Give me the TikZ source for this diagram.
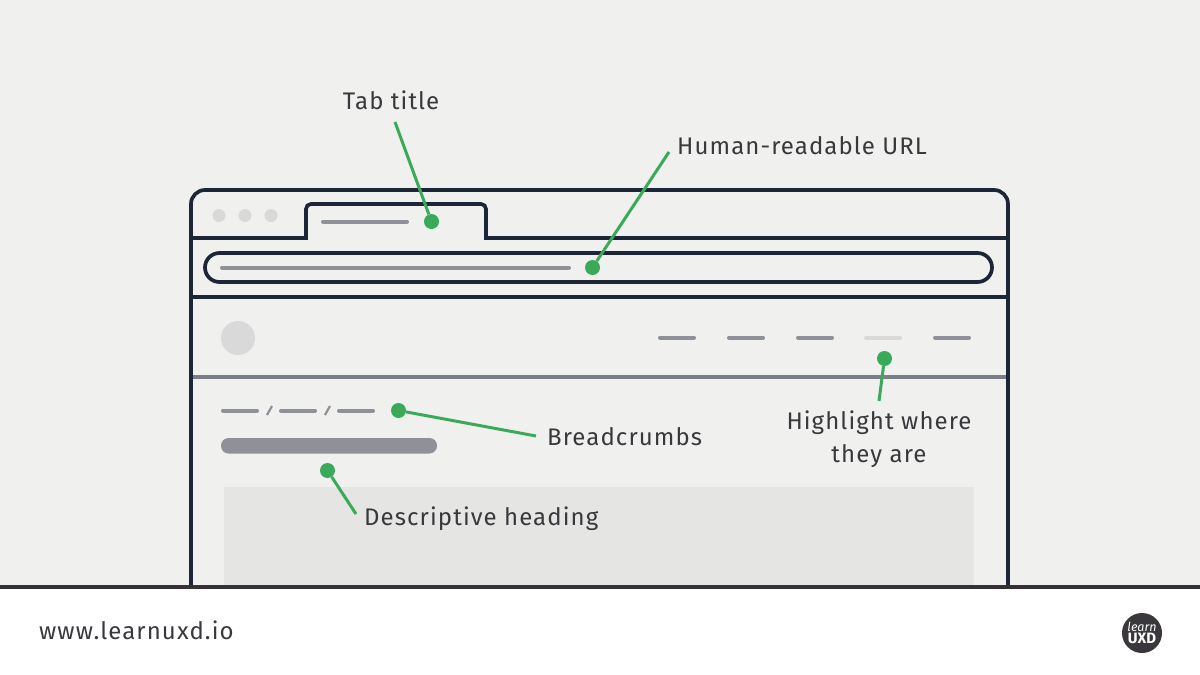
\documentclass[tikz,border=0pt]{standalone}
\usepackage{fontspec}
\setmainfont[LetterSpace=4.5]{Fira Sans}
\usepackage{tikz}
\definecolor{pagebg}{HTML}{F0F0EF}
\definecolor{frameblue}{HTML}{1D2636}
\definecolor{navgrey}{HTML}{7A7F87}
\definecolor{stubgrey}{HTML}{8E9198}
\definecolor{palegrey}{HTML}{D9D9D9}
\definecolor{panelgrey}{HTML}{E5E5E4}
\definecolor{leadgreen}{HTML}{3AAA5A}
\definecolor{inkdark}{HTML}{3A383D}
\tikzstyle{frame} = [
    line width=3.7pt,
    draw=frameblue
]
\tikzstyle{stub} = [
    line width=4pt,
    draw=stubgrey,
    line cap=round
]
\tikzstyle{dot} = [
    circle,
    inner sep=0pt,
    minimum size=15pt,
    fill=leadgreen
]
\tikzstyle{light} = [
    circle,
    inner sep=0pt,
    minimum size=13pt,
    fill=palegrey
]
\tikzstyle{label} = [
    inner sep=0pt,
    text=inkdark,
    font=\fontsize{24}{33}\selectfont
]
\tikzstyle{leader} = [line width=3pt, draw=leadgreen]

\begin{document}
\begin{tikzpicture}[x=1pt,y=-1pt]
\useasboundingbox (0,0) rectangle (1200,675);
\fill [pagebg] (0,0) rectangle (1200,587);

\fill [panelgrey] (224,487) rectangle (974,587);

% browser window
\draw [frame, rounded corners=14pt] (191,587) -- (191,190) -- (1008,190) -- (1008,587);
\draw [frame] (191,238) -- (306,238);
\draw [frame] (486,238) -- (1008,238);
\draw [frame, rounded corners=5pt] (306,239.8) -- (306,204) -- (486,204) -- (486,239.8);
\draw [frame, rounded corners=14.5pt] (205,253) rectangle (992,282);
\draw [frame] (191,297) -- (1008,297);
\draw [line width=3.7pt, draw=navgrey] (193,377) -- (1006,377);

\node (btnone) [light] at (219,215.5) {};
\node (btntwo) [light, right of=btnone, node distance=26pt] {};
\node (btnthree) [light, right of=btntwo, node distance=26pt] {};
\node (avatar) [circle, inner sep=0pt, minimum size=34pt, fill=palegrey] at (238,338) {};

\draw [stub] (323,221.5) -- (407,221.5);
\draw [stub] (222,267.5) -- (569,267.5);

% nav items
\foreach \x in {660,729,798,935}
    \draw [stub] (\x,337.5) -- (\x+34,337.5);
\draw [stub, draw=palegrey] (866,337.5) -- (900,337.5);

% breadcrumbs
\foreach \x in {223,281,339}
    \draw [stub] (\x,410.5) -- (\x+34,410.5);
\draw [stub, line width=2.2pt, line cap=butt] (267,415) -- (272,406);
\draw [stub, line width=2.2pt, line cap=butt] (325,415) -- (330,406);
\fill [stubgrey, rounded corners=7.5pt] (221,438) rectangle (437,453.5);

% footer
\fill [white] (0,587) rectangle (1200,675);
\draw [line width=4pt, draw=inkdark!90!black] (0,587) -- (1200,587);

\node (tabdot) [dot] at (431.5,221.5) {};
\node (urldot) [dot] at (592.5,267.5) {};
\node (navdot) [dot] at (884.5,358.5) {};
\node (crumbdot) [dot] at (398.5,410.5) {};
\node (headdot) [dot] at (327.5,470.5) {};

\node (tabtitle) [label] at (391,100) {Tab title};
\node (urltext) [label, anchor=west] at (677,146) {Human-readable URL};
\node (crumbtext) [label, anchor=west] at (547,437) {Breadcrumbs};
\node (navtext) [label, align=center] at (879,439) {Highlight where\\they are};
\node (headtext) [label, anchor=west] at (364,519) {Descriptive heading};
\node (site) [label, anchor=west] at (39,630) {www.learnuxd.io};

\coordinate (tabend) at (395,122);
\coordinate (urlend) at (669,152);
\coordinate (navend) at (879,401);
\coordinate (crumbend) at (536,436);
\coordinate (headend) at (356,514);

\draw [leader] (tabend) -- (tabdot);
\draw [leader] (urlend) -- (urldot);
\draw [leader] (navend) -- (navdot);
\draw [leader] (crumbend) -- (crumbdot);
\draw [leader] (headend) -- (headdot);

% logo
\node (logo) [circle, inner sep=0pt, minimum size=40pt, fill=inkdark] at (1142,633) {};
\node (logolearn) [inner sep=0pt, text=white, font=\fontsize{12.5}{11}\selectfont\itshape\addfontfeature{LetterSpace=0}] at (1142,626.5) {learn};
\node (logouxd) [inner sep=0pt, text=white, font=\fontsize{15}{13}\selectfont\bfseries\addfontfeature{LetterSpace=0}] at (1142,638.5) {UXD};
\end{tikzpicture}
\end{document}
